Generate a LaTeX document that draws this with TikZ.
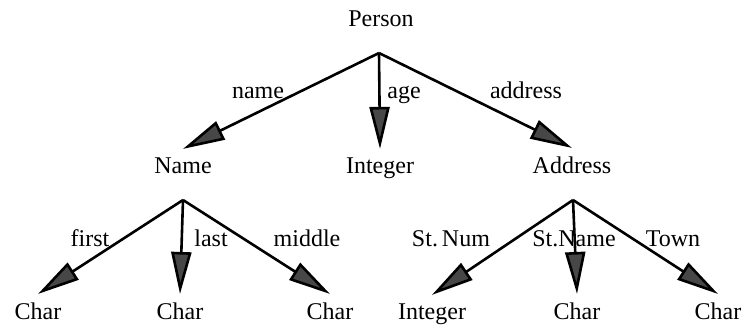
\documentclass[tikz,border=0pt]{standalone}
\usepackage{fontspec}
\setmainfont{Liberation Serif}
\usetikzlibrary{arrows.meta}

\begin{document}
\begin{tikzpicture}[x=0.5pt,y=-0.5pt,
  type/.style={anchor=base,inner sep=4pt,font=\fontsize{12}{14}\selectfont},
  attr/.style={anchor=base,inner sep=0pt,font=\fontsize{12}{14}\selectfont},
  link/.style={line width=1.3pt,-{Triangle[length=21pt,width=10pt,fill=black!72]}}]
\useasboundingbox (0,0) rectangle (744,328);
% types
\node[type] (person) at (381,26) {Person};
\node[type] (name) at (183,173) {Name};
\node[type] (integer) at (380,173) {Integer};
\node[type] (address) at (572,173) {Address};
\node[type] (first-char) at (38,319) {Char};
\node[type] (last-char) at (180,319) {Char};
\node[type] (middle-char) at (330,319) {Char};
\node[type] (stnum-int) at (432,319) {Integer};
\node[type] (stname-char) at (577,319) {Char};
\node[type] (town-char) at (718,319) {Char};
% fork points under each record type
\coordinate (person-fork) at (379,53);
\coordinate (name-fork) at (183,200);
\coordinate (address-fork) at (573,200);
% fields
\draw[link] (person-fork) -- (name.north);
\draw[link] (person-fork) -- (integer.north);
\draw[link] (person-fork) -- (address.north);
\draw[link] (name-fork) -- (first-char.north);
\draw[link] (name-fork) -- (last-char.north);
\draw[link] (name-fork) -- (middle-char.north);
\draw[link] (address-fork) -- (stnum-int.north);
\draw[link] (address-fork) -- (stname-char.north);
\draw[link] (address-fork) -- (town-char.north);
% field labels
\node[attr] (lbl-name) at (258,98) {name};
\node[attr] (lbl-age) at (404,98) {age};
\node[attr] (lbl-address) at (526,98) {address};
\node[attr] (lbl-first) at (90,246) {first};
\node[attr] (lbl-last) at (211,246) {last};
\node[attr] (lbl-middle) at (307,246) {middle};
\node[attr] (lbl-stnum) at (451,246) {St.\,Num};
\node[attr] (lbl-stname) at (574,246) {St.Name};
\node[attr] (lbl-town) at (673,246) {Town};
\end{tikzpicture}
\end{document}
